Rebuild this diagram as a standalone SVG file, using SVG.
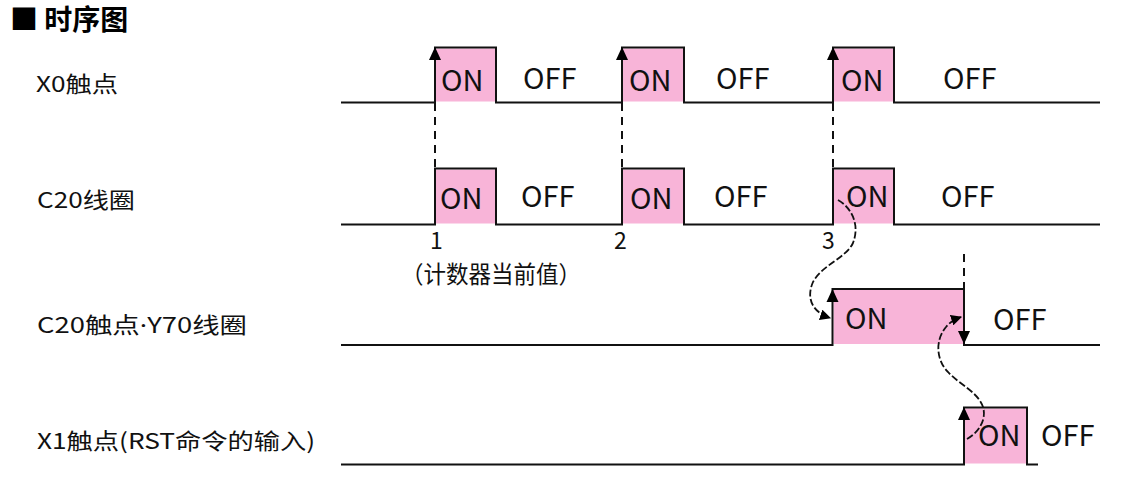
<svg xmlns="http://www.w3.org/2000/svg" width="1131" height="481" viewBox="0 0 1131 481">
<style>
  .title{font-family:"Noto Sans CJK SC","Noto Sans",sans-serif;font-size:28px;font-weight:bold;fill:#000}
  .lbl{font-family:"Noto Sans CJK SC","Noto Sans",sans-serif;font-size:22px;fill:#111}
  .st{font-family:"Noto Sans CJK SC","Noto Sans",sans-serif;font-size:29px;fill:#111}
  .num{font-family:"Noto Sans CJK SC","Noto Sans",sans-serif;font-size:23px;fill:#111}
  .wave{fill:none;stroke:#111;stroke-width:2;stroke-linejoin:miter}
  .on{fill:#F8B4D8;stroke:none}
  .dash{fill:none;stroke:#111;stroke-width:2;stroke-dasharray:8 6}
  .curve{fill:none;stroke:#111;stroke-width:1.8;stroke-dasharray:7 2.5}
  .ah{fill:#000}
</style>
<defs>
  <marker id="cm" viewBox="0 0 10 10" refX="9" refY="5" markerWidth="11" markerHeight="11" markerUnits="userSpaceOnUse" orient="auto">
    <path d="M0,0 L10,5 L0,10 Z" class="ah"/>
  </marker>
  <path id="up" d="M0,0 L6,13 L-6,13 Z" class="ah"/>
  <path id="down" d="M0,0 L6,-13 L-6,-13 Z" class="ah"/>
</defs>

<g id="title">
  <text x="10" y="30" class="title">■ 时序图</text>
</g>

<g id="x0">
  <text x="36" y="92" class="lbl" textLength="82" lengthAdjust="spacingAndGlyphs">X0触点</text>
  <rect class="on" x="436" y="48.5" width="60" height="53"/>
  <rect class="on" x="623" y="48.5" width="60" height="53"/>
  <rect class="on" x="834" y="48.5" width="59" height="53"/>
  <path class="wave" d="M341,102.5 H435 V47.5 H496 V102.5 H622 V47.5 H684 V102.5 H833 V47.5 H894 V102.5 H1100"/>
  <use href="#up" x="435" y="47"/>
  <use href="#up" x="622" y="47"/>
  <use href="#up" x="833" y="47"/>
  <text x="441" y="91" class="st">ON</text>
  <text x="523" y="89" class="st">OFF</text>
  <text x="629" y="91" class="st">ON</text>
  <text x="716" y="89" class="st">OFF</text>
  <text x="841" y="91" class="st">ON</text>
  <text x="943" y="89" class="st">OFF</text>
</g>

<g id="c20coil">
  <text x="37" y="208" class="lbl" textLength="98" lengthAdjust="spacingAndGlyphs">C20线圈</text>
  <rect class="on" x="436" y="169.5" width="60" height="54"/>
  <rect class="on" x="623" y="169.5" width="60" height="54"/>
  <rect class="on" x="834" y="169.5" width="59" height="54"/>
  <path class="wave" d="M341,224.5 H435 V168.5 H496 V224.5 H622 V168.5 H684 V224.5 H833 V168.5 H894 V224.5 H1100"/>
  <text x="440" y="209" class="st">ON</text>
  <text x="521" y="207" class="st">OFF</text>
  <text x="630" y="209" class="st">ON</text>
  <text x="714" y="207" class="st">OFF</text>
  <text x="846" y="207" class="st">ON</text>
  <text x="941" y="207" class="st">OFF</text>
  <text x="430" y="249" class="num">1</text>
  <text x="614" y="249" class="num">2</text>
  <text x="822" y="249" class="num">3</text>
  <text x="401" y="283" class="num" style="font-size:24px" textLength="180" lengthAdjust="spacingAndGlyphs">（计数器当前值）</text>
</g>

<g id="c20contact">
  <text x="37" y="333" class="lbl" textLength="210" lengthAdjust="spacingAndGlyphs">C20触点<tspan style="font-family:'Noto Sans',sans-serif">·</tspan>Y70线圈</text>
  <rect class="on" x="833.5" y="290" width="130" height="54"/>
  <path class="wave" d="M341,345 H832.5 V289 H964 V345 H1100"/>
  <use href="#up" x="832.5" y="289"/>
  <use href="#down" x="964" y="344"/>
  <text x="845" y="329" class="st">ON</text>
  <text x="993" y="330" class="st">OFF</text>
</g>

<g id="x1">
  <text x="37" y="449" class="lbl" textLength="278" lengthAdjust="spacingAndGlyphs">X1触点(RST命令的输入)</text>
  <rect class="on" x="965" y="408.5" width="61" height="55"/>
  <path class="wave" d="M341,464.5 H964 V407.5 H1027 V464.5 H1038"/>
  <use href="#up" x="964" y="407"/>
  <text x="978" y="446" class="st">ON</text>
  <text x="1041" y="446" class="st">OFF</text>
</g>

<g id="connectors">
  <line class="dash" x1="435" y1="103" x2="435" y2="168"/>
  <line class="dash" x1="622" y1="103" x2="622" y2="168"/>
  <line class="dash" x1="833" y1="103" x2="833" y2="168"/>
  <line class="dash" x1="964" y1="254" x2="964" y2="289"/>
  <path class="curve" marker-end="url(#cm)" d="M838,200 C852,208 860,225 853,243 C846,258 822,265 813,282 C806,298 812,312 830,318"/>
  <path class="curve" marker-end="url(#cm)" d="M967,439 C978,433 987,420 983,407 C978,392 960,385 948,372 C936,360 935,340 946,327 C950,322 955,319 961,317"/>
</g>
</svg>
